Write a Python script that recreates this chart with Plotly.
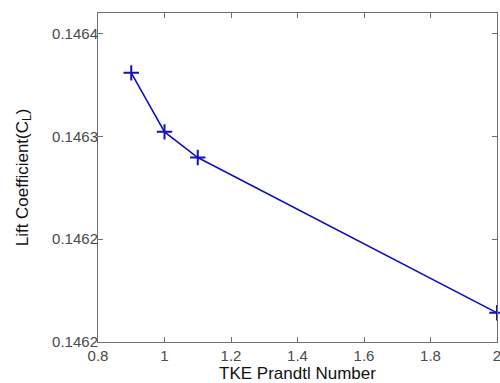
import plotly.graph_objects as go

prandtl = [0.9, 1.0, 1.1, 2.0]
lift_cl = [0.1463309, 0.1463022, 0.1462897, 0.1462142]

x_ticks = [0.8, 1.0, 1.2, 1.4, 1.6, 1.8, 2.0]
x_labels = ["0.8", "1", "1.2", "1.4", "1.6", "1.8", "2"]
y_ticks = [0.14620, 0.14625, 0.14630, 0.14635]
y_labels = ["0.1462", "0.1462", "0.1463", "0.1464"]

blue = "#1212b8"
axis_col = "#6e6e6e"
font_fam = "Liberation Sans, Arial, sans-serif"

fig = go.Figure()
fig.add_trace(go.Scatter(
    x=prandtl, y=lift_cl, mode="lines+markers",
    line=dict(color=blue, width=1.6),
    marker=dict(symbol="cross-thin", size=11, color=blue,
                line=dict(color=blue, width=2)),
    showlegend=False, cliponaxis=False,
))

axis_common = dict(
    showline=True, linecolor=axis_col, linewidth=1, mirror="allticks",
    ticks="inside", ticklen=5, tickcolor=axis_col, tickwidth=1,
    showgrid=False, zeroline=False, ticklabeloverflow="allow",
    tickfont=dict(family=font_fam, size=15, color="#4a4a4a"),
)

fig.update_layout(
    width=500, height=383,
    margin=dict(l=98, r=3, t=13, b=41),
    paper_bgcolor="white", plot_bgcolor="white",
    font=dict(family=font_fam),
    xaxis=dict(range=[0.8, 2.0], tickvals=x_ticks, ticktext=x_labels,
               automargin=False,
               title=dict(text="TKE Prandtl Number", standoff=2,
                          font=dict(family=font_fam, size=17, color="#111")),
               **axis_common),
    yaxis=dict(range=[0.14620, 0.14636], tickvals=y_ticks, ticktext=y_labels,
               ticklabelstandoff=-4, automargin=True,
               title=dict(text="Lift Coefficient(C<sub>L</sub>)", standoff=19,
                          font=dict(family=font_fam, size=17, color="#111")),
               **axis_common),
)

fig.write_html("out.html")
